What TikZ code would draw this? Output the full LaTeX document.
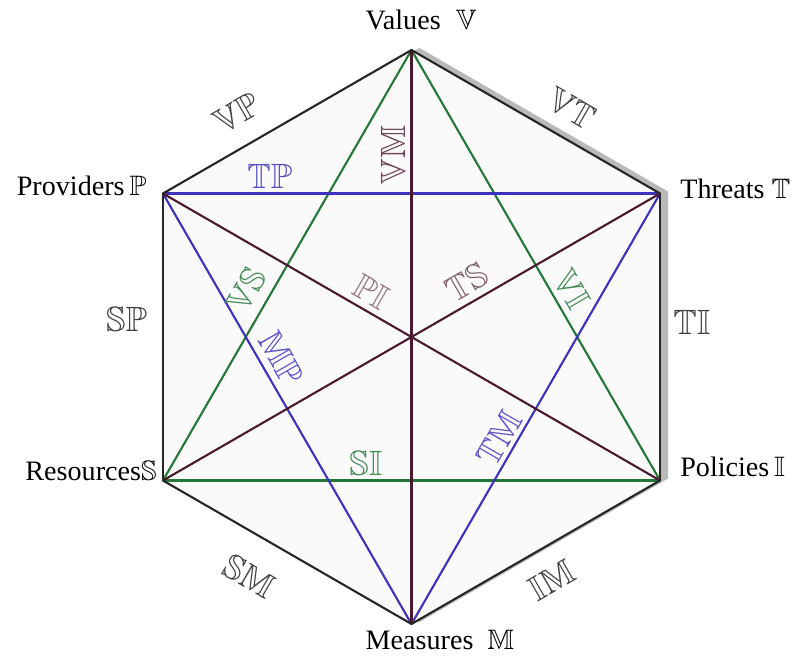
\documentclass[tikz,border=0pt]{standalone}
\usepackage{amssymb}
\usepackage{fontspec}
\setmainfont{Liberation Serif}
\usetikzlibrary{positioning}

\definecolor{hexgreen}{RGB}{35,120,55}
\definecolor{hexblue}{RGB}{60,50,190}
\definecolor{hexwine}{RGB}{75,25,45}

\begin{document}
\begin{tikzpicture}[
	corner/.style={ font=\fontsize{20}{24}\selectfont, inner sep=0pt },
	pairlabel/.style={ font=\fontsize{25}{30}\selectfont, inner sep=0pt },
	side/.style={ line width=1.5pt, draw=black!85 },
	greenline/.style={ line width=1.5pt, draw=hexgreen },
	blueline/.style={ line width=1.5pt, draw=hexblue },
	wineline/.style={ line width=1.5pt, draw=hexwine },
]
\useasboundingbox (-10.2875,-8.225) rectangle (9.7875,8.425);

\coordinate (V) at (90:7.175);
\coordinate (T) at (30:7.175);
\coordinate (I) at (-30:7.175);
\coordinate (M) at (-90:7.175);
\coordinate (S) at (210:7.175);
\coordinate (P) at (150:7.175);

% shadow and face
\fill[gray!55] ([shift={(0.2,0.05)}]V) -- ([shift={(0.2,0.05)}]T) -- ([shift={(0.2,0.05)}]I)
	-- ([shift={(0.2,0.05)}]M) -- ([shift={(0.2,0.05)}]S) -- ([shift={(0.2,0.05)}]P) -- cycle;
\fill[black!2] (V) -- (T) -- (I) -- (M) -- (S) -- (P) -- cycle;

\foreach \a/\b in {V/S,V/I,S/I}
	\draw[greenline] (\a) -- (\b);
\foreach \a/\b in {T/P,P/M,M/T}
	\draw[blueline] (\a) -- (\b);
\foreach \a/\b in {V/M,P/I,T/S}
	\draw[wineline] (\a) -- (\b);
\foreach \a/\b in {V/T,T/I,I/M,M/S,S/P,P/V}
	\draw[side, line cap=round] (\a) -- (\b);

\node (tV) [corner, above=0.5cm of V, xshift=0.24cm] {Values\hspace{0.55em}$\mathbb{V}$};
\node (tT) [corner, right=0.5cm of T, yshift=0.12cm] {Threats $\mathbb{T}$};
\node (tI) [corner, right=0.5cm of I, yshift=0.35cm] {Policies$\,\mathbb{I}$};
\node (tM) [corner, below=0.15cm of M, xshift=0.71cm] {Measures\hspace{0.5em}$\mathbb{M}$};
\node (tS) [corner, left=0.15cm of S, yshift=0.25cm] {Resources$\mathbb{S}$};
\node (tP) [corner, left=0.4cm of P, yshift=0.2cm] {Providers$\,\mathbb{P}$};

\node at (-4.36,5.6) (lVP) [pairlabel, black!75, rotate=30] {$\mathbb{VP}$};
\node at (4.0,5.72) (lVT) [pairlabel, black!75, rotate=-30] {$\mathbb{VT}$};
\node at (7.01,0.375) (lTI) [pairlabel, black!75] {$\mathbb{TI}$};
\node at (3.51,-6.08) (lIM) [pairlabel, black!75, rotate=30] {$\mathbb{IM}$};
\node at (-4.06,-5.98) (lSM) [pairlabel, black!75, rotate=-30] {$\mathbb{SM}$};
\node at (-7.12,0.45) (lSP) [pairlabel, black!75] {$\mathbb{SP}$};

\node at (-3.54,4.01) (lTP) [pairlabel, hexblue!85!white] {$\mathbb{TP}$};
\node at (-0.455,4.55) (lVM) [pairlabel, hexwine!80!white, rotate=90] {$\mathbb{VM}$};
\node at (-4.12,1.18) (lVS) [pairlabel, hexgreen!85!white, rotate=60] {$\mathbb{VS}$};
\node at (4.01,1.18) (lVI) [pairlabel, hexgreen!85!white, rotate=-60] {$\mathbb{VI}$};
\node at (-1.0,1.13) (lPI) [pairlabel, hexwine!60!white, rotate=-30] {$\mathbb{PI}$};
\node at (1.38,1.38) (lTS) [pairlabel, hexwine!70!white, rotate=30] {$\mathbb{TS}$};
\node at (-3.25,-0.53) (lMP) [pairlabel, hexblue!85!white, rotate=-60] {$\mathbb{MP}$};
\node at (-1.14,-3.15) (lSI) [pairlabel, hexgreen!85!white] {$\mathbb{SI}$};
\node at (2.19,-2.53) (lTM) [pairlabel, hexblue!85!white, rotate=60] {$\mathbb{TM}$};

\end{tikzpicture}
\end{document}
